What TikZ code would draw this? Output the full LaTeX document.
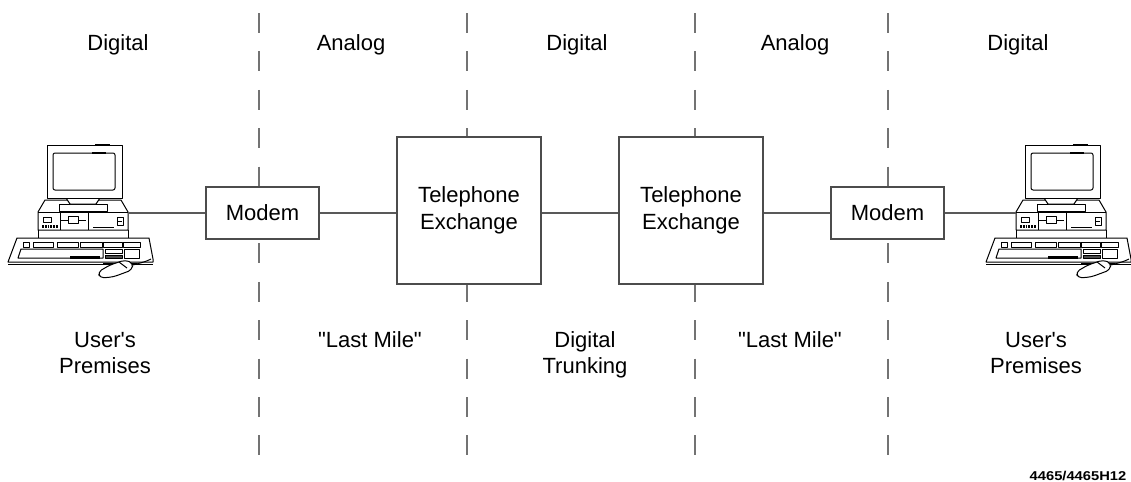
\documentclass[tikz,border=0pt]{standalone}
\usepackage{fontspec}
\setmainfont{Liberation Sans}[Ligatures=TeXOff]

% Desktop computer icon; origin = left edge of the system unit's front face top
\tikzset{
  icon/.style={line width=0.5pt, line join=round, draw=black},
  pics/computer/.style={code={
    % system unit with chamfered top
    \draw[icon, fill=white] (7,-12) -- (83,-12) -- (90,0) -- (90,18) -- (0,18) -- (0,0) -- cycle;
    \draw[icon] (0,0) -- (90,0);
    \draw[icon] (0,18) -- (0,26) (90,18) -- (90,26);
    % monitor stand
    \draw[icon, fill=white] (21,-8) rectangle (69,-1);
    \draw[icon, fill=white] (28,-14) -- (62,-14) -- (58,-8) -- (32,-8) -- cycle;
    % monitor
    \draw[icon, fill=white] (9,-67) rectangle (84,-14);
    \draw[icon, rounded corners=1pt] (15,-59) rectangle (77,-22);
    \draw[line width=1.2pt] (57,-67) -- (72,-67) (54,-59) -- (68,-59);
    % front panel details
    \draw[icon] (5,5) rectangle (13,10);
    \draw[line width=1.1pt, dash pattern=on 0.9pt off 0.5pt] (4,14.5) -- (20,14.5);
    \draw[icon] (22,0) -- (22,18) (50,0) -- (50,18);
    \draw[icon] (22,8) -- (30,8) (40,8) -- (48,8);
    \draw[icon] (30,4) rectangle (40,11);
    \draw[icon] (55,15) -- (76,15);
    \draw[icon] (79,5) rectangle (85,13) (80,9) -- (84,9);
    % keyboard
    \draw[icon, fill=white] (-21,26) -- (111,26) -- (115,47) -- (115,50) -- (-30,50) -- cycle;
    \draw[icon] (-30,52.5) -- (115,52.5);
    \draw[line width=1.4pt] (65,52) -- (99,52);
    \foreach \a/\b in {-15/-9,-5/15,19/40,42/64,65/84,85/102}
      \draw[icon] (\a,30) rectangle (\b,35);
    \draw[icon] (-17,37) -- (65,37) -- (65,46) -- (-20,46) -- cycle;
    \draw[line width=1.2pt] (32,45.5) -- (62,45.5);
    \draw[icon] (67,37) rectangle (84,41);
    \draw[icon, fill=black!70] (67,43) rectangle (84,46);
    \draw[icon] (86,37) rectangle (101,46);
    % mouse and cord
    \draw[icon, fill=white, rounded corners=2pt] (60,60) -- (72,53) -- (87,48) -- (95,51) -- (94,58) -- (75,65) -- (62,66) -- cycle;
    \draw[icon] (81,50) -- (89,56);
    \draw[icon] (95,53) .. controls (101,51) and (105,51) .. (113,47);
    % ports for the link line
    \coordinate (-east) at (90,1);
    \coordinate (-west) at (0,1);
  }}
}

\begin{document}
\begin{tikzpicture}[x=0.5pt, y=-0.5pt,
  lbl/.style={font=\fontsize{11}{12.8}\selectfont, align=center, inner sep=0pt},
  unit/.style={draw=black!70, line width=0.55pt, fill=white, inner sep=0pt,
    font=\fontsize{11}{13.5}\selectfont, align=center},
  link/.style={draw=black!65, line width=0.55pt},
  divider/.style={draw=black!55, line width=0.55pt, dash pattern=on 10pt off 9.2pt},
]
\useasboundingbox (0,0) rectangle (1131,482);

% zone boundaries
\foreach \x [count=\i] in {259,467,695,888} {
  \coordinate (d\i top) at (\x,13);
  \coordinate (d\i bot) at (\x,455);
  \draw[divider] (d\i top) -- (d\i bot);
}

% zone headings
\node[lbl] (h1) at (118,44.5) {Digital};
\node[lbl] (h2) at (351,44.5) {Analog};
\node[lbl] (h3) at (577,44.5) {Digital};
\node[lbl] (h4) at (795,44.5) {Analog};
\node[lbl] (h5) at (1018,44.5) {Digital};

% equipment
\pic (pcL) at (38,212) {computer};
\pic (pcR) at (1016,212) {computer};
\node[unit, minimum width=56.5pt, minimum height=26pt] (m1) at (262.5,213) {Modem};
\node[unit, minimum width=72pt, minimum height=73.5pt] (x1) at (469,210.5) {Telephone\\Exchange};
\node[unit, minimum width=72pt, minimum height=73.5pt] (x2) at (691,210.5) {Telephone\\Exchange};
\node[unit, minimum width=56.5pt, minimum height=26pt] (m2) at (887.5,213) {Modem};

% links
\draw[link] (pcL-east) -- (pcL-east -| m1.west);
\draw[link] (m1.east) -- (m1.east -| x1.west);
\draw[link] (x1.east |- m1.east) -- (x2.west |- m1.east);
\draw[link] (x2.east |- m2.west) -- (m2.west);
\draw[link] (m2.east) -- (m2.east -| pcR-west);

% zone descriptions
\node[lbl] (b1) at (105,353) {User's\\Premises};
\node[lbl] (b2) at (370,340) {"Last Mile"};
\node[lbl] (b3) at (585,355) {Digital\\Trunking};
\node[lbl] (b4) at (790,340) {"Last Mile"};
\node[lbl] (b5) at (1036,353) {User's\\Premises};

% figure code
\node[inner sep=0pt, font=\fontsize{6.4}{7}\selectfont\bfseries] (code) at (1078,476) {\scalebox{1.15}[1]{4465/4465H12}};
\end{tikzpicture}
\end{document}
